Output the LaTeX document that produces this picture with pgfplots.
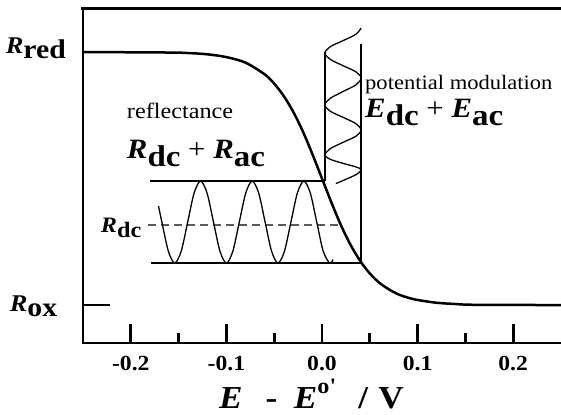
\documentclass[border=0pt]{standalone}
\usepackage{pgfplots}
\pgfplotsset{compat=1.18}
\usepackage{fontspec}
\setmainfont{Liberation Serif}[FakeStretch=1.1]
\newcommand{\fs}[1]{\fontsize{#1bp}{#1bp}\selectfont}

\begin{document}
\begin{tikzpicture}
\begin{axis}[
  name=ax,
  scale only axis, width=478bp, height=335bp,
  xmin=-0.25, xmax=0.25, ymin=-0.15, ymax=1.174,
  axis x line*=bottom, axis y line*=left,
  axis line style={line width=2.7bp, -, line cap=rect},
  xtick={-0.2,-0.1,0,0.1,0.2},
  xticklabels={-0.2,-0.1,0.0,0.1,0.2},
  minor xtick={-0.15,-0.05,0.05,0.15},
  ytick=\empty,
  tick align=inside,
  major tick length=19bp, minor tick length=10bp,
  tick style={black, line width=2.7bp},
  xticklabel style={font={\fs{21.5}\bfseries}, anchor=base, inner sep=0pt, yshift=-27bp},
  clip=false,
]
% top frame line
\draw[line width=3bp, line cap=rect] (rel axis cs:0,1) -- (rel axis cs:1,1);

% reflectance curve
\addplot[line width=2.5bp, smooth] coordinates {
(-0.25,1.0) (-0.16,0.998) (-0.14,0.996) (-0.12,0.991) (-0.10,0.980) (-0.08,0.958)
(-0.06,0.912) (-0.05,0.875) (-0.04,0.826) (-0.03,0.763) (-0.02,0.686) (-0.01,0.596)
(0,0.5) (0.01,0.404) (0.02,0.314) (0.03,0.237) (0.04,0.174) (0.05,0.125) (0.06,0.088)
(0.07,0.062) (0.08,0.042) (0.09,0.029) (0.10,0.020) (0.12,0.009) (0.14,0.004)
(0.16,0.001) (0.25,0)};

% R_ox tick
\addplot[line width=2.2bp] coordinates {(-0.25,0) (-0.222,0)};

% horizontal guide lines
\addplot[line width=2bp] coordinates {(-0.18,0.49) (0.003,0.49)};
\addplot[line width=2bp] coordinates {(-0.179,0.166) (0.041,0.166)};
\addplot[line width=1.5bp, black!65, dash pattern=on 8bp off 5bp] coordinates {(-0.182,0.316) (0.02,0.316)};

% vertical lines
\addplot[line width=1.8bp] coordinates {(0.003,0.49) (0.003,1.0)};
\addplot[line width=1.8bp] coordinates {(0.041,0.166) (0.041,1.03)};

% reflectance modulation wave
\addplot[line width=1.3bp, smooth] coordinates {
(-0.171,0.391) (-0.1675,0.328) (-0.16075,0.213) (-0.154,0.166) (-0.14725,0.213)
(-0.1405,0.328) (-0.13375,0.443) (-0.127,0.490) (-0.12025,0.443) (-0.1135,0.328)
(-0.10675,0.213) (-0.100,0.166) (-0.09325,0.213) (-0.0865,0.328) (-0.07975,0.443)
(-0.073,0.490) (-0.06625,0.443) (-0.0595,0.328) (-0.05275,0.213) (-0.046,0.166)
(-0.03925,0.213) (-0.0325,0.328) (-0.02575,0.443) (-0.019,0.490) (-0.01225,0.443)
(-0.0055,0.328) (0.00125,0.213) (0.008,0.166) (0.0115,0.180)};

% potential modulation wave
\addplot[line width=1.3bp, smooth] coordinates {
(0.041,1.095) (0.0354,1.070) (0.022,1.045) (0.0086,1.021) (0.003,0.996)
(0.0086,0.971) (0.022,0.946) (0.0354,0.922) (0.041,0.897)
(0.0354,0.870) (0.022,0.844) (0.0086,0.817) (0.003,0.791)
(0.0086,0.766) (0.022,0.742) (0.0354,0.717) (0.041,0.692)
(0.0354,0.667) (0.022,0.643) (0.0086,0.618) (0.003,0.593)
(0.0086,0.576) (0.022,0.560) (0.0354,0.546) (0.041,0.535)
(0.0354,0.515) (0.0145,0.48)};

% labels
\node[anchor=base west, inner sep=0pt] at (axis cs:-0.3309,0.996)
  {\fs{24}\textbf{\textit{R}}\raisebox{-5bp}{\fs{27}\textbf{red}}};
\node[anchor=base west, inner sep=0pt] at (axis cs:-0.3267,-0.0237)
  {\fs{24}\textbf{\textit{R}}\raisebox{-5bp}{\fs{27}\textbf{ox}}};
\node[anchor=base west, inner sep=0pt] at (axis cs:-0.2042,0.739) {\fs{22}reflectance};
\node[anchor=base west, inner sep=0pt] at (axis cs:-0.2042,0.581)
  {\fs{28}\textbf{\textit{R}}\raisebox{-8bp}{\fs{30}\textbf{dc}} + \textbf{\textit{R}}\raisebox{-8bp}{\fs{30}\textbf{ac}}};
\node[anchor=base west, inner sep=0pt] at (axis cs:-0.2314,0.2885)
  {\fs{22}\textbf{\textit{R}}\raisebox{-5bp}{\textbf{dc}}};
\node[anchor=base west, inner sep=0pt] at (axis cs:0.045,0.850) {\fs{20.5}potential modulation};
\node[anchor=base west, inner sep=0pt] at (axis cs:0.045,0.743)
  {\fs{28}\textbf{\textit{E}}\raisebox{-8bp}{\fs{30}\textbf{dc}} + \textbf{\textit{E}}\raisebox{-8bp}{\fs{30}\textbf{ac}}};
\node[anchor=base west, inner sep=0pt] at (axis cs:-0.1079,-0.407)
  {\fs{32}\textbf{\textit{E}}\hspace{23bp}\textbf{-}\hspace{16.7bp}\textbf{\textit{E}}\raisebox{15bp}{\fs{22}\textbf{o\textquotesingle}}\hspace{22.7bp}\textbf{/}\hspace{10bp}\textbf{V}};
\end{axis}
\pgfresetboundingbox
\path[use as bounding box] ([xshift=-83bp,yshift=-72bp]ax.south west) rectangle ([yshift=8bp]ax.north east);
\end{tikzpicture}
\end{document}
